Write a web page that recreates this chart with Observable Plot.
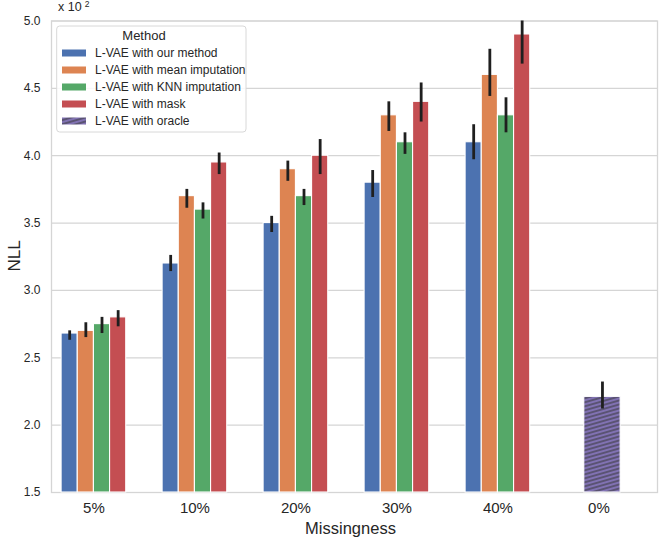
<!DOCTYPE html>
<html><head><meta charset="utf-8">
<script src="https://cdn.jsdelivr.net/npm/d3@7"></script>
<script src="https://cdn.jsdelivr.net/npm/@observablehq/plot@0.6"></script>
<style>
body{margin:0;background:#fff;}
#chart{width:665px;height:538px;position:relative;}
</style>
</head><body><div id="chart"></div>
<script>
// ---- data (values in units of 10^2) ----
const categories = ["5%", "10%", "20%", "30%", "40%"];
const oracleCategory = "0%";
const methods = ["L-VAE with our method", "L-VAE with mean imputation", "L-VAE with KNN imputation", "L-VAE with mask"];
const oracleMethod = "L-VAE with oracle";
const colors = ["#4C72B0", "#DD8452", "#55A868", "#C44E52"];
const oracleColor = "#8172B3";

const ourMethod  = [2.68, 3.20, 3.50, 3.80, 4.10];
const meanImp    = [2.70, 3.70, 3.90, 4.30, 4.60];
const knnImp     = [2.75, 3.60, 3.70, 4.10, 4.30];
const maskOnly   = [2.80, 3.95, 4.00, 4.40, 4.90];

const ourLo  = [2.63, 3.14, 3.43, 3.69, 3.97];
const ourHi  = [2.70, 3.26, 3.55, 3.89, 4.23];
const meanLo = [2.65, 3.61, 3.81, 4.18, 4.44];
const meanHi = [2.76, 3.75, 3.96, 4.40, 4.79];
const knnLo  = [2.68, 3.53, 3.63, 4.01, 4.17];
const knnHi  = [2.80, 3.65, 3.75, 4.17, 4.43];
const maskLo = [2.73, 3.86, 3.86, 4.25, 4.68];
const maskHi = [2.85, 4.02, 4.12, 4.54, 5.00];

const oracleValue = 2.21;
const oracleLo = 2.12;
const oracleHi = 2.32;

const yTicks = [1.5, 2.0, 2.5, 3.0, 3.5, 4.0, 4.5, 5.0];
const xLabels = [...categories, oracleCategory];

const values = [ourMethod, meanImp, knnImp, maskOnly];
const lows = [ourLo, meanLo, knnLo, maskLo];
const highs = [ourHi, meanHi, knnHi, maskHi];

const rows = [];
methods.forEach((m, j) => categories.forEach((c, i) => rows.push({
  i, j, method: m, cat: c, value: values[j][i], lo: lows[j][i], hi: highs[j][i]
})));
const oracleRows = [{i: categories.length, cat: oracleCategory, value: oracleValue, lo: oracleLo, hi: oracleHi}];

const barW = 0.16;
const oracleW = 0.36;
const oracleShift = 0.035;
const yMin = yTicks[0];
const textColor = "#262626";
const gridColor = "#d5d5d5";
const font = "'Liberation Sans', Arial, sans-serif";

const center = d => d.i + (d.j - 1.5) * barW;

const plot = Plot.plot({
  width: 665, height: 538,
  marginTop: 20.5, marginBottom: 46, marginLeft: 51, marginRight: 8,
  style: {fontFamily: font, background: "transparent", color: textColor},
  x: {type: "linear", domain: [-0.42, 5.58], ticks: d3.range(xLabels.length), tickFormat: i => xLabels[i], tickSize: 0, tickPadding: 10, label: null},
  y: {domain: [yTicks[0], yTicks[yTicks.length - 1]], ticks: yTicks, tickFormat: d3.format(".1f"), tickSize: 0, tickPadding: 11, label: null},
  marks: [
    Plot.ruleY(yTicks, {stroke: gridColor, strokeWidth: 1.2}),
    Plot.frame({stroke: gridColor, strokeWidth: 1.3}),
    ...methods.map((m, j) => Plot.rectY(rows.filter(r => r.j === j), {
      x1: d => center(d) - barW / 2, x2: d => center(d) + barW / 2,
      y1: yMin, y2: "value", fill: colors[j], stroke: "white", strokeWidth: 1.1
    })),
    Plot.rectY(oracleRows, {
      x1: d => d.i + oracleShift - oracleW / 2, x2: d => d.i + oracleShift + oracleW / 2,
      y1: yMin, y2: "value", fill: "url(#hatch)", stroke: "white", strokeWidth: 1.1
    }),
    Plot.ruleX(rows, {x: center, y1: "lo", y2: "hi", stroke: "#1f1f1f", strokeWidth: 2.8}),
    Plot.ruleX(oracleRows, {x: d => d.i + oracleShift, y1: "lo", y2: "hi", stroke: "#1f1f1f", strokeWidth: 2.8})
  ]
});
document.getElementById("chart").appendChild(plot);

const svg = d3.select(plot);
svg.selectAll('g[aria-label^="x-axis"] text').attr("font-size", 15).attr("fill", textColor);
svg.selectAll('g[aria-label^="y-axis"] text').attr("font-size", 12).attr("fill", textColor);

// hatch pattern for the oracle bar
const defs = svg.insert("defs", ":first-child");
const pat = defs.append("pattern").attr("id", "hatch")
  .attr("patternUnits", "userSpaceOnUse").attr("width", 20).attr("height", 4)
  .attr("patternTransform", "skewY(-16)");
pat.append("rect").attr("width", 20).attr("height", 4).attr("fill", oracleColor);
pat.append("line").attr("x1", 0).attr("x2", 20).attr("y1", 2).attr("y2", 2)
  .attr("stroke", "#333333").attr("stroke-width", 1);

// axis titles
svg.append("text").attr("x", 350.5).attr("y", 534).attr("text-anchor", "middle")
  .attr("font-size", 16.5).attr("font-family", font).attr("fill", textColor).text("Missingness");
svg.append("text").attr("transform", "translate(20,256) rotate(-90)").attr("text-anchor", "middle")
  .attr("font-size", 17).attr("font-family", font).attr("fill", textColor).text("NLL");
const off = svg.append("text").attr("x", 58).attr("y", 11).attr("font-size", 12.5).attr("text-anchor", "start")
  .attr("font-family", font).attr("fill", textColor).text("x 10");
off.append("tspan").attr("dx", 3).attr("dy", -4).attr("font-size", 8.5).text("2");

// legend
const lg = svg.append("g").attr("font-family", font).attr("fill", textColor).attr("text-anchor", "start");
lg.append("rect").attr("x", 56.7).attr("y", 26).attr("width", 189.3).attr("height", 106)
  .attr("rx", 3).attr("fill", "white").attr("fill-opacity", 0.85).attr("stroke", "#d8d8d8").attr("stroke-width", 1);
lg.append("text").attr("x", 144).attr("y", 40).attr("text-anchor", "middle").attr("font-size", 13).text("Method");
const entries = [...methods.map((m, j) => ({label: m, fill: colors[j]})), {label: oracleMethod, fill: "url(#hatch)"}];
entries.forEach((e, k) => {
  const cy = 53 + k * 17;
  lg.append("rect").attr("x", 62).attr("y", cy - 3.5).attr("width", 24).attr("height", 7).attr("fill", e.fill);
  lg.append("text").attr("x", 95).attr("y", cy + 4.3).attr("text-anchor", "start").attr("font-size", 12).text(e.label);
});
</script>
</body></html>
